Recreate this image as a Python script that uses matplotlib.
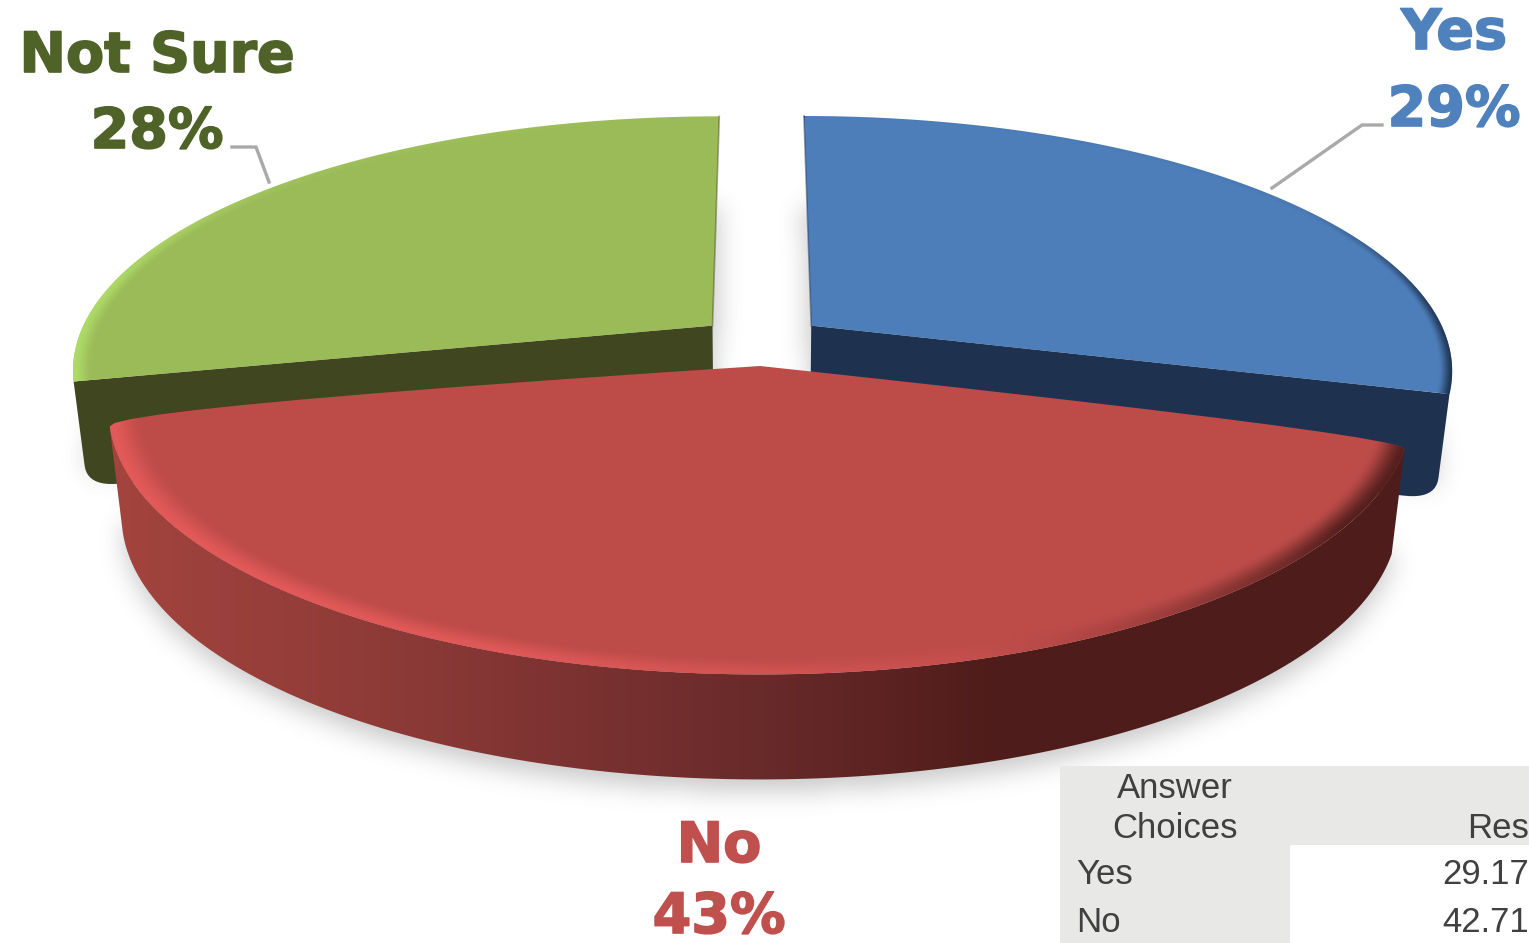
## Recreate the 3D looking survey pie chart
import numpy as np
import matplotlib
matplotlib.use('Agg')
import matplotlib.pyplot as plt
import matplotlib.patheffects as pe
from matplotlib.patches import Polygon, Rectangle
from matplotlib.path import Path

## DATA
answers = ['Yes', 'No', 'Not Sure']
percents = [29.17, 42.71, 28.12]
table_rows = ['Yes', 'No']
table_values = ['29.17', '42.71']

## STYLE
tops = ['#4D7EBA', '#BD4C49', '#9BBB59']
sides = ['#1E3250', '#8A3A38', '#404620']
text_colors = ['#4F81BD', '#C0504D', '#4F6228']
bg_gray = '#E8E8E7'
table_text = '#404040'
leader = '#A9A9A9'
label_font = 'DejaVu Sans'
table_font = 'Liberation Sans'

# Perspective of the pie, in reference pixels
cx, cy = 760, 366
a, b, p = 642, 256, 0.17
depth = 105
inset = 0.98
# How far each slice is pulled from the red apex (plane units)
offsets = [(0.082, 0.162), (0.0, 0.0), (-0.076, 0.162)]
radii = [1.009, 1.0, 1.007]
# The drawn cuts sit a little off the true angles in this view
start_shift = [0, 0, -1.5]
end_shift = [0.5, 2.0, 0]
shadow_shift = [-15, 10, -15]

## FUNCTIONS

def project(u, v):
    '''
    Description: Takes a point on the pie plane to the picture
    Parameters: Arrays u and v
    Return: Arrays x and y
    '''
    w = 1 + p * v
    return cx + a * u / w, cy - b * v / w

def unproject(x, y):
    '''
    Description: Takes a picture point back to the pie plane
    Parameters: Arrays x and y
    Return: Arrays u and v
    '''
    t = (cy - y) / b
    v = t / (1 - p * t)
    u = (x - cx) * (1 + p * v) / a
    return u, v

def arc_points(start, end, offset, radius, num=160):
    theta = np.radians(np.linspace(start, end, num))
    return np.column_stack(project(offset[0] + radius * np.sin(theta), offset[1] + radius * np.cos(theta)))

def to_bottom(pts):
    '''
    Description: Moves top face points down to the bottom face
    Parameters: Array of points
    Return: Array of points
    '''
    out = pts.copy()
    out[:, 0] = cx + (out[:, 0] - cx) * inset
    out[:, 1] = out[:, 1] + depth
    return out

def round_at(pts, corner, radius):
    '''
    Description: Rounds one corner of a closed outline
    Parameters: Array of points, the corner point, radius in pixels
    Return: Array of points
    '''
    i = np.argmin(np.hypot(*(pts - corner).T))
    n = len(pts)
    pts = np.roll(pts, -i, axis=0)   # Corner is now the first point
    dist = np.hypot(*(pts[1:] - pts[0]).T)
    fwd = np.argmax(dist >= radius) + 1
    back = np.hypot(*(pts[:0:-1] - pts[0]).T)
    bwd = np.argmax(back >= radius) + 1
    p0, p1, p2 = pts[n - bwd], pts[0], pts[fwd]
    t = np.linspace(0, 1, 12)[:, None]
    curve = (1 - t) ** 2 * p0 + 2 * t * (1 - t) * p1 + t ** 2 * p2
    return np.vstack([curve, pts[fwd + 1:n - bwd]])

def blur(img, sigma):
    k = np.exp(-0.5 * (np.arange(-3 * sigma, 3 * sigma + 1) / sigma) ** 2)
    k = k / k.sum()
    img = np.apply_along_axis(lambda r: np.convolve(r, k, mode='same'), 0, img)
    return np.apply_along_axis(lambda r: np.convolve(r, k, mode='same'), 1, img)

def add_bevel(ax, patch, offset, radius, stops, colors, alphas, width, zorder):
    '''
    Description: Paints the soft rim of a top face, colored by angle
    Parameters: Axes, top face patch, slice offset, slice radius, angle stops, rgb per stop, alpha per stop, rim width, zorder
    Return: None
    '''
    verts = patch.get_xy()
    x0, y0 = verts.min(axis=0)
    x1, y1 = verts.max(axis=0)
    xs, ys = np.meshgrid(np.arange(x0, x1, 1.0), np.arange(y0, y1, 1.0))
    u, v = unproject(xs, ys)
    u, v = u - offset[0], v - offset[1]
    r = np.hypot(u, v) / radius
    theta = np.degrees(np.arctan2(u, v)) % 360
    edge = np.clip((r - (1 - width)) / width, 0, 1)
    edge = edge * edge * (3 - 2 * edge)
    colors = np.array(colors) / 255
    rgba = np.zeros(xs.shape + (4,))
    for c in range(3):
        rgba[..., c] = np.interp(theta, stops, colors[:, c])
    rgba[..., 3] = edge * np.interp(theta, stops, alphas)
    im = ax.imshow(rgba, extent=(x0, x1, y1, y0), aspect='auto', zorder=zorder, interpolation='bilinear')
    im.set_clip_path(patch)

## CALCULATIONS
starts = np.cumsum([0] + percents[:-1]) * 3.6 + start_shift
ends = np.cumsum(percents) * 3.6 + end_shift

top_faces = []
for i in range(len(percents)):
    apex = np.array(project(offsets[i][0], offsets[i][1]))
    arc = arc_points(starts[i], ends[i], offsets[i], radii[i])
    top_faces.append(np.vstack([apex, arc]))

## OUTPUT
fig = plt.figure(figsize=(15.29, 9.43), dpi=100, facecolor='white')
ax = fig.add_axes([0, 0, 1, 1])

# Soft shadow on the floor
gx, gy = np.meshgrid(np.arange(0, 1529, 4), np.arange(0, 943, 4))
grid = np.column_stack([gx.ravel(), gy.ravel()])
mask = np.zeros(gx.shape)
for i in range(len(top_faces)):
    shadow = to_bottom(top_faces[i]) + [0, shadow_shift[i]]
    mask = np.maximum(mask, Path(shadow).contains_points(grid).reshape(gx.shape).astype(float))
mask = blur(mask, 3)
shade = np.zeros(mask.shape + (4,))
shade[..., :3] = 0.35
shade[..., 3] = mask * 0.32
ax.imshow(shade, extent=(0, 1529, 943, 0), aspect='auto', zorder=1, interpolation='bilinear')

# Cut faces of the two back slices
for i in [0, 2]:
    apex = top_faces[i][0]
    corner = top_faces[i][-1] if i == 0 else top_faces[i][1]
    bottom_corner = to_bottom(corner[None])[0]
    quad = np.array([apex, corner, bottom_corner, to_bottom(apex[None])[0]])
    dense = np.vstack([np.linspace(quad[j], quad[(j + 1) % 4], 40, endpoint=False) for j in range(4)])
    ax.add_patch(Polygon(round_at(dense, bottom_corner, 20), closed=True, fc=sides[i], ec='none', zorder=2))

# Top faces of the two back slices
back_patches = {}
for i in [0, 2]:
    face = top_faces[i]
    patch = Polygon(face, closed=True, fc=tops[i], ec='none', zorder=3)
    ax.add_patch(patch)
    back_patches[i] = patch
    far = face[1] if i == 0 else face[-1]
    ax.plot([face[0][0], far[0]], [face[0][1], far[1]], color=sides[i], lw=1.2, alpha=0.45, zorder=3.4)

add_bevel(ax, back_patches[0], offsets[0], radii[0], [0, 60, 85, 107], [(30, 50, 80)] * 4, [0, 0.1, 0.9, 1], 0.022, 3.5)
add_bevel(ax, back_patches[2], offsets[2], radii[2], [256, 280, 310, 360], [(175, 220, 105)] * 4, [1, 0.9, 0.2, 0], 0.03, 3.5)

# Red side wall with its left to right shading
front_arc = top_faces[1][4:-4]   # Stay inside the rounded corners
wall = np.vstack([front_arc, to_bottom(front_arc)[::-1]])
wall_patch = Polygon(wall, closed=True, fc='none', ec='none', zorder=4)
ax.add_patch(wall_patch)
grad_x = np.arange(100, 1420, 4.0)
grad = np.column_stack([
    np.interp(grad_x, [100, 400, 760, 1000, 1420], [165, 140, 105, 78, 78]),
    np.interp(grad_x, [100, 400, 760, 1000, 1420], [68, 58, 42, 28, 30]),
    np.interp(grad_x, [100, 400, 760, 1000, 1420], [62, 55, 42, 26, 28]),
]) / 255
im = ax.imshow(grad[None, :, :], extent=(100, 1420, 800, 400), aspect='auto', zorder=4, interpolation='bilinear')
im.set_clip_path(wall_patch)

# Red top face
red_face = top_faces[1]
red_outline = round_at(round_at(red_face, red_face[-1], 14), red_face[1], 14)
red_patch = Polygon(red_outline, closed=True, fc=tops[1], ec='none', zorder=5)
ax.add_patch(red_patch)
add_bevel(ax, red_patch, offsets[1], radii[1], [105, 125, 145, 165, 200, 261],
          [(72, 26, 24), (72, 26, 24), (72, 26, 24), (225, 90, 90), (228, 90, 90), (228, 90, 90)],
          [0.9, 0.9, 0.35, 0.25, 0.9, 1], 0.05, 6)

# Leader lines
ax.plot([1272, 1362, 1382], [188, 125, 125], color=leader, lw=2.4, zorder=7, solid_joinstyle='miter')
ax.plot([232, 256, 269], [147, 147, 182], color=leader, lw=2.4, zorder=7, solid_joinstyle='miter')

# Slice labels
name_pos = [(1454, 49), (719, 862), (157, 72)]
pct_pos = [(1454, 126), (719, 933), (157, 148)]
for i in range(len(answers)):
    heavy = [pe.withStroke(linewidth=1.2, foreground=text_colors[i])]
    ax.text(name_pos[i][0], name_pos[i][1], answers[i], color=text_colors[i], family=label_font,
            fontweight='bold', fontsize=40, ha='center', va='baseline', zorder=8, path_effects=heavy)
    ax.text(pct_pos[i][0], pct_pos[i][1], str(round(percents[i])) + '%', color=text_colors[i], family=label_font,
            fontweight='bold', fontsize=40, ha='center', va='baseline', zorder=8, path_effects=heavy)

# Table in the corner
ax.add_patch(Rectangle((1060, 766), 469, 79, fc=bg_gray, ec='none', zorder=9))
ax.add_patch(Rectangle((1060, 845), 230, 98, fc=bg_gray, ec='none', zorder=9))
ax.text(1175, 789, 'Answer', color=table_text, family=table_font, fontsize=25, ha='center', va='center', zorder=10)
ax.text(1175, 829, 'Choices', color=table_text, family=table_font, fontsize=25, ha='center', va='center', zorder=10)
ax.text(1529, 829, 'Res', color=table_text, family=table_font, fontsize=25, ha='right', va='center', zorder=10)
row_y = [875, 922]
for i in range(len(table_rows)):
    ax.text(1076, row_y[i], table_rows[i], color=table_text, family=table_font, fontsize=25, ha='left', va='center', zorder=10)
    ax.text(1529, row_y[i], table_values[i], color=table_text, family=table_font, fontsize=25, ha='right', va='center', zorder=10)

ax.set_xlim(0, 1529)
ax.set_ylim(943, 0)
ax.axis('off')
fig.savefig('out.png', dpi=100, facecolor='white')
